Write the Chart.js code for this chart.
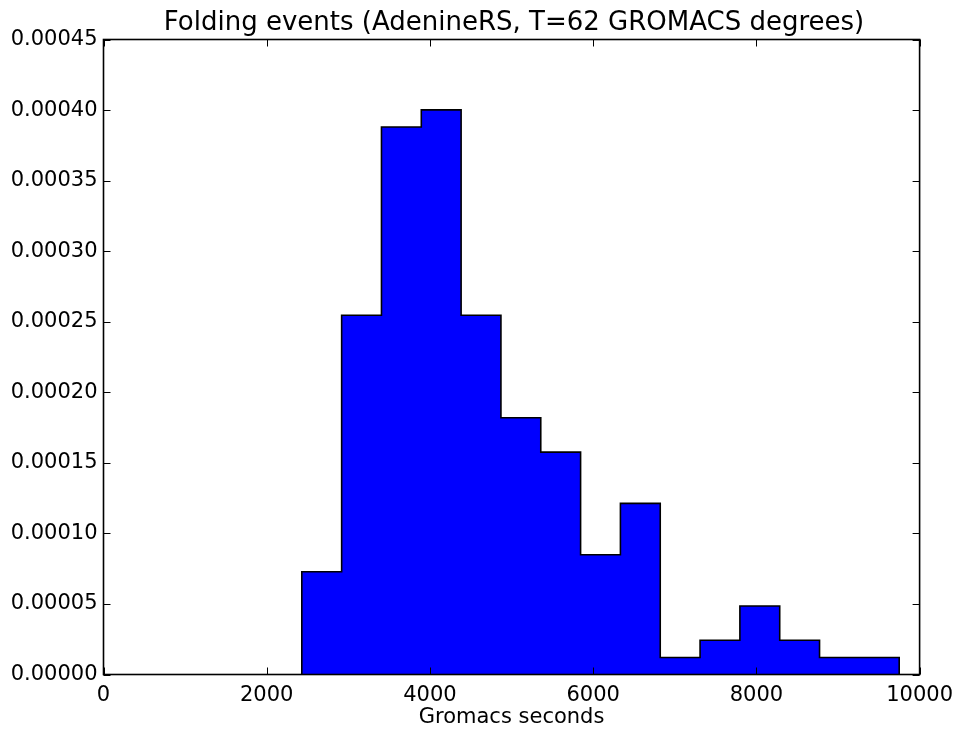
<!DOCTYPE html>
<html>
<head>
<meta charset="utf-8">
<script src="https://cdn.jsdelivr.net/npm/chart.js@4/dist/chart.umd.min.js"></script>
<style>
html,body{margin:0;padding:0;background:#fff;}
#wrap{width:961px;height:733px;position:relative;}
</style>
</head>
<body>
<div id="wrap"><canvas id="c" width="961" height="733"></canvas></div>
<script>
// Histogram bin edges (Gromacs seconds)
const binEdges = [2430, 2918, 3406, 3894, 4382, 4870, 5358, 5846, 6334, 6822, 7310, 7798, 8286, 8774, 9262, 9750];
// Normalised density per bin
const densities = [0.0000728, 0.0002546, 0.000388, 0.0004001, 0.0002546, 0.0001819, 0.0001576, 0.0000849, 0.0001213, 0.0000121, 0.0000243, 0.0000485, 0.0000243, 0.0000121, 0.0000121];
const xTicks = [0, 2000, 4000, 6000, 8000, 10000];
const yTicks = [0, 0.00005, 0.0001, 0.00015, 0.0002, 0.00025, 0.0003, 0.00035, 0.0004, 0.00045];
const titleText = 'Folding events (AdenineRS, T=62 GROMACS degrees)';
const xLabel = 'Gromacs seconds';

const pts = [{x: binEdges[0], y: 0}];
for (let i = 0; i < densities.length; i++) pts.push({x: binEdges[i], y: densities[i]});
pts.push({x: binEdges[binEdges.length - 1], y: densities[densities.length - 1]});
pts.push({x: binEdges[binEdges.length - 1], y: 0});

const FONT = 'DejaVu Sans';

const framePlugin = {
  id: 'frame',
  afterDatasetsDraw(chart) {
    const {ctx, chartArea: a, scales} = chart;
    ctx.save();
    ctx.strokeStyle = '#000';
    ctx.lineWidth = 1;
    const tl = 7;
    ctx.beginPath();
    xTicks.forEach(v => {
      const px = Math.round(scales.x.getPixelForValue(v)) + 0.5;
      ctx.moveTo(px, a.bottom); ctx.lineTo(px, a.bottom - tl);
      ctx.moveTo(px, a.top); ctx.lineTo(px, a.top + tl);
    });
    yTicks.forEach(v => {
      const py = Math.round(scales.y.getPixelForValue(v)) + 0.5;
      ctx.moveTo(a.left, py); ctx.lineTo(a.left + tl, py);
      ctx.moveTo(a.right, py); ctx.lineTo(a.right - tl, py);
    });
    ctx.stroke();
    ctx.lineWidth = 1.6;
    ctx.strokeRect(a.left, a.top, a.right - a.left, a.bottom - a.top);
    // title centred over the plot area
    ctx.fillStyle = '#000';
    ctx.font = '26px "' + FONT + '"';
    ctx.textAlign = 'center';
    ctx.textBaseline = 'alphabetic';
    ctx.fillText(titleText, (a.left + a.right) / 2 + 2.5, 29.5);
    ctx.restore();
  }
};

new Chart(document.getElementById('c'), {
  type: 'line',
  data: {
    datasets: [{
      data: pts,
      stepped: 'before',
      fill: 'origin',
      backgroundColor: '#0000ff',
      borderColor: '#000000',
      borderWidth: 1.6,
      pointRadius: 0,
      tension: 0
    }]
  },
  options: {
    responsive: false,
    animation: false,
    events: [],
    layout: {padding: {left: 0, right: 40.5, top: 39.5, bottom: 0}},
    plugins: {
      legend: {display: false},
      tooltip: {enabled: false},
      title: {display: false}
    },
    scales: {
      x: {
        type: 'linear',
        min: 0, max: 10000,
        afterBuildTicks(s) { s.ticks = xTicks.map(v => ({value: v})); },
        afterFit(s) { s.height = 58.5; },
        grid: {display: false, drawTicks: false},
        border: {display: false},
        ticks: {color: '#000', font: {family: FONT, size: 21}, padding: 8, maxRotation: 0,
          callback: v => String(v)},
        title: {display: true, text: xLabel, color: '#000', font: {family: FONT, size: 21}, padding: {top: 0, bottom: 2.5}}
      },
      y: {
        type: 'linear',
        min: 0, max: 0.00045,
        afterBuildTicks(s) { s.ticks = yTicks.map(v => ({value: v})); },
        afterFit(s) { s.width = 103.5; },
        grid: {display: false, drawTicks: false},
        border: {display: false},
        ticks: {color: '#000', font: {family: FONT, size: 21}, padding: 6,
          callback: v => Number(v).toFixed(5)}
      }
    }
  },
  plugins: [framePlugin]
});
</script>
</body>
</html>
